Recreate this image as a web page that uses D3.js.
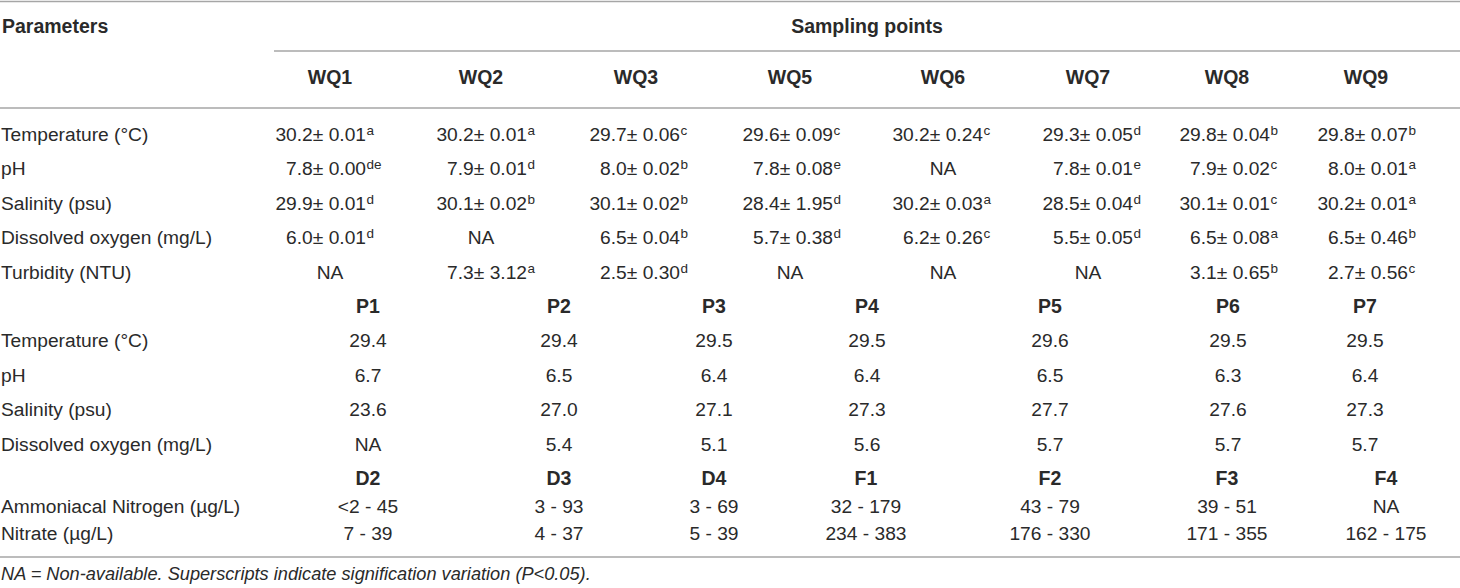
<!DOCTYPE html>
<html>
<head>
<meta charset="utf-8">
<script src="https://cdn.jsdelivr.net/npm/d3@7"></script>
<style>
  body { margin: 0; background: #fff; }
</style>
</head>
<body>
<div id="chart"></div>
<script>
var wqSites = ["WQ1", "WQ2", "WQ3", "WQ5", "WQ6", "WQ7", "WQ8", "WQ9"];
var wqParams = ["Temperature (°C)", "pH", "Salinity (psu)", "Dissolved oxygen (mg/L)", "Turbidity (NTU)"];
var wqMeans = [
  [30.2, 30.2, 29.7, 29.6, 30.2, 29.3, 29.8, 29.8],
  [7.8, 7.9, 8.0, 7.8, null, 7.8, 7.9, 8.0],
  [29.9, 30.1, 30.1, 28.4, 30.2, 28.5, 30.1, 30.2],
  [6.0, null, 6.5, 5.7, 6.2, 5.5, 6.5, 6.5],
  [null, 7.3, 2.5, null, null, null, 3.1, 2.7]
];
var wqSds = [
  [0.01, 0.01, 0.06, 0.09, 0.24, 0.05, 0.04, 0.07],
  [0.00, 0.01, 0.02, 0.08, null, 0.01, 0.02, 0.01],
  [0.01, 0.02, 0.02, 1.95, 0.03, 0.04, 0.01, 0.01],
  [0.01, null, 0.04, 0.38, 0.26, 0.05, 0.08, 0.46],
  [null, 3.12, 0.30, null, null, null, 0.65, 0.56]
];
var wqSups = [
  ["a", "a", "c", "c", "c", "d", "b", "b"],
  ["de", "d", "b", "e", "", "e", "c", "a"],
  ["d", "b", "b", "d", "a", "d", "c", "a"],
  ["d", "", "b", "d", "c", "d", "a", "b"],
  ["", "a", "d", "", "", "", "b", "c"]
];

var pSites = ["P1", "P2", "P3", "P4", "P5", "P6", "P7"];
var pParams = ["Temperature (°C)", "pH", "Salinity (psu)", "Dissolved oxygen (mg/L)"];
var pValues = [
  [29.4, 29.4, 29.5, 29.5, 29.6, 29.5, 29.5],
  [6.7, 6.5, 6.4, 6.4, 6.5, 6.3, 6.4],
  [23.6, 27.0, 27.1, 27.3, 27.7, 27.6, 27.3],
  [null, 5.4, 5.1, 5.6, 5.7, 5.7, 5.7]
];

var dSites = ["D2", "D3", "D4", "F1", "F2", "F3", "F4"];
var dParams = ["Ammoniacal Nitrogen (µg/L)", "Nitrate (µg/L)"];
var dLow = [
  ["<2", 3, 3, 32, 43, 39, null],
  [7, 4, 5, 234, 176, 171, 162]
];
var dHigh = [
  [45, 93, 69, 179, 79, 51, null],
  [39, 37, 39, 383, 330, 355, 175]
];

var caption = "NA = Non-available. Superscripts indicate signification variation (P<0.05).";

// ---- layout ----
var W = 1460, H = 588;
var font = "'Liberation Sans', Arial, Helvetica, sans-serif";
var fs = 19.2, fsBold = 19.5;
var ink = "#2a2a2a";
var rule = "#a6a6a6";

var svg = d3.select("#chart").append("svg")
  .attr("width", W).attr("height", H)
  .style("font-family", font);

// row centres
var rowKeys = ["wq0", "wq1", "wq2", "wq3", "wq4", "pH_", "p0", "p1", "p2", "p3", "dH_", "d0", "d1"];
var y = d3.scaleOrdinal().domain(rowKeys)
  .range([134, 168, 203, 237, 272, 306, 340, 375, 409, 444, 478, 506, 533]);
var base = function(k) { return y(k) + 7; };

// column positions
var wqCenter = d3.scaleOrdinal().domain(wqSites).range([330, 481, 636, 790, 943, 1088, 1227, 1366]);
var wqEnd = d3.scaleOrdinal().domain(wqSites).range([366, 527, 680, 833, 983, 1133, 1270, 1408]);
var pX = d3.scaleOrdinal().domain(pSites).range([368, 559, 714, 867, 1050, 1228, 1365]);
var dX = d3.scaleOrdinal().domain(dSites).range([368, 559, 714, 866, 1050, 1227, 1386]);

var f1 = d3.format(".1f"), f2 = d3.format(".2f");

// rules
var rules = [
  { x1: 0, x2: W, y: 1.5 },
  { x1: 274, x2: W, y: 51 },
  { x1: 0, x2: W, y: 108 },
  { x1: 0, x2: W, y: 557 }
];
svg.selectAll("line.rule").data(rules).enter().append("line")
  .attr("class", "rule")
  .attr("x1", function(d) { return d.x1; })
  .attr("x2", function(d) { return d.x2; })
  .attr("y1", function(d) { return d.y; })
  .attr("y2", function(d) { return d.y; })
  .attr("stroke", rule).attr("stroke-width", 1.6);

// top headers
svg.append("text").attr("x", 2).attr("y", 33)
  .attr("font-size", fsBold).attr("font-weight", "bold").attr("fill", ink)
  .text("Parameters");
svg.append("text").attr("x", 867).attr("y", 33).attr("text-anchor", "middle")
  .attr("font-size", fsBold).attr("font-weight", "bold").attr("fill", ink)
  .text("Sampling points");

function headRow(sites, xs, yy) {
  svg.append("g").selectAll("text").data(sites).enter().append("text")
    .attr("x", function(d) { return xs(d); })
    .attr("y", yy)
    .attr("text-anchor", "middle")
    .attr("font-size", fsBold).attr("font-weight", "bold").attr("fill", ink)
    .text(function(d) { return d; });
}
headRow(wqSites, wqCenter, 84);
headRow(pSites, pX, base("pH_"));
headRow(dSites, dX, base("dH_"));

// parameter labels
function labels(params, prefix) {
  svg.append("g").selectAll("text").data(params).enter().append("text")
    .attr("x", 1)
    .attr("y", function(d, i) { return base(prefix + i); })
    .attr("font-size", fs).attr("fill", ink)
    .text(function(d) { return d; });
}
labels(wqParams, "wq");
labels(pParams, "p");
labels(dParams, "d");

// WQ cells: mean ± sd with superscript letters
var wqCells = [];
wqParams.forEach(function(p, i) {
  wqSites.forEach(function(s, j) {
    wqCells.push({ row: "wq" + i, site: s, m: wqMeans[i][j], sd: wqSds[i][j], sup: wqSups[i][j] });
  });
});
var wqG = svg.append("g");
wqG.selectAll("text.main").data(wqCells).enter().append("text")
  .attr("class", "main")
  .attr("x", function(d) { return d.m == null ? wqCenter(d.site) : wqEnd(d.site); })
  .attr("y", function(d) { return base(d.row); })
  .attr("text-anchor", function(d) { return d.m == null ? "middle" : "end"; })
  .attr("font-size", fs).attr("fill", ink)
  .text(function(d) { return d.m == null ? "NA" : f1(d.m) + "\u00b1 " + f2(d.sd); });
wqG.selectAll("text.sup").data(wqCells.filter(function(d) { return d.m != null; })).enter().append("text")
  .attr("class", "sup")
  .attr("x", function(d) { return wqEnd(d.site) + 0.5; })
  .attr("y", function(d) { return base(d.row) - 6.5; })
  .attr("font-size", 13.5).attr("fill", ink)
  .text(function(d) { return d.sup; });

// P cells
var pCells = [];
pParams.forEach(function(p, i) {
  pSites.forEach(function(s, j) { pCells.push({ row: "p" + i, site: s, v: pValues[i][j] }); });
});
svg.append("g").selectAll("text").data(pCells).enter().append("text")
  .attr("x", function(d) { return pX(d.site); })
  .attr("y", function(d) { return base(d.row); })
  .attr("text-anchor", "middle")
  .attr("font-size", fs).attr("fill", ink)
  .text(function(d) { return d.v == null ? "NA" : f1(d.v); });

// D / F cells: ranges
var dCells = [];
dParams.forEach(function(p, i) {
  dSites.forEach(function(s, j) { dCells.push({ row: "d" + i, site: s, lo: dLow[i][j], hi: dHigh[i][j] }); });
});
svg.append("g").selectAll("text").data(dCells).enter().append("text")
  .attr("x", function(d) { return dX(d.site); })
  .attr("y", function(d) { return base(d.row); })
  .attr("text-anchor", "middle")
  .attr("font-size", fs).attr("fill", ink)
  .text(function(d) { return d.lo == null ? "NA" : d.lo + " - " + d.hi; });

// footnote
svg.append("text").attr("x", 1).attr("y", 580)
  .attr("font-size", 18.2).attr("font-style", "italic").attr("fill", ink)
  .text(caption);
</script>
</body>
</html>
